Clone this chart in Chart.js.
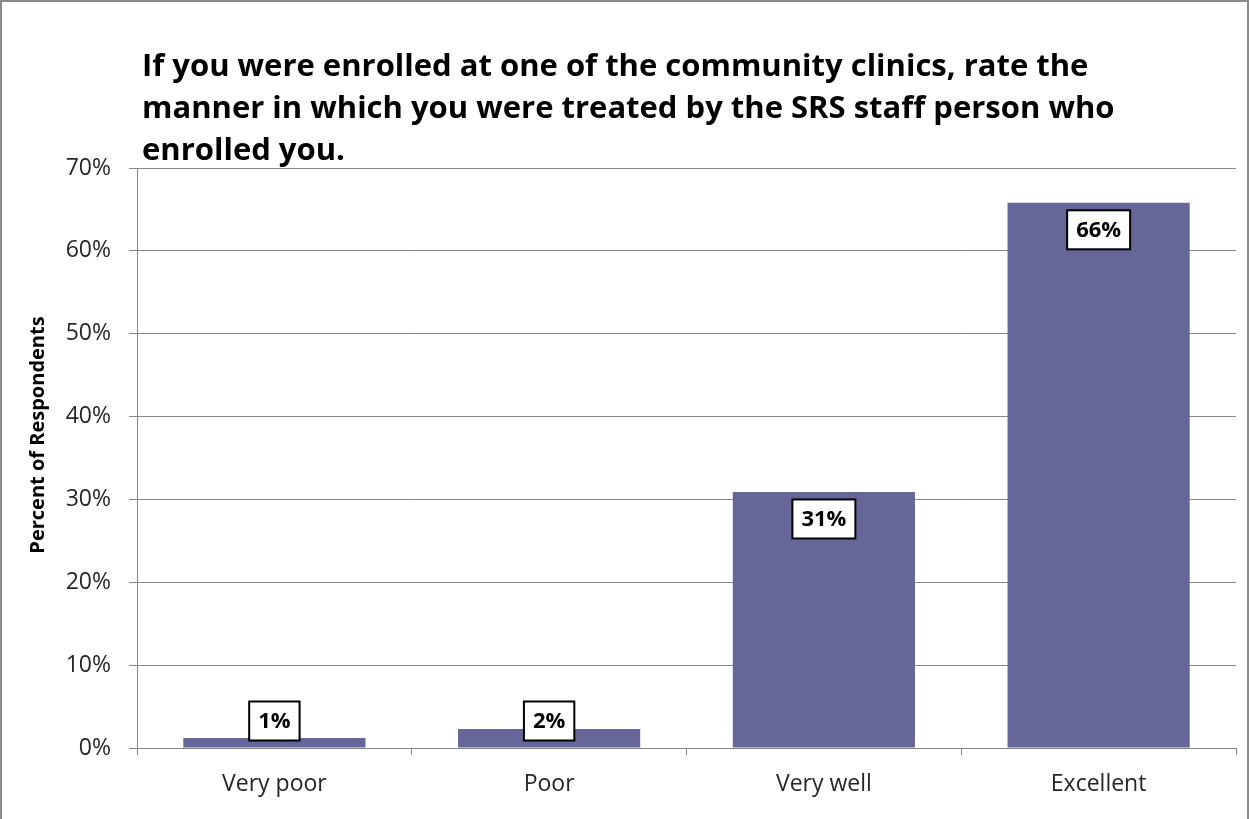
<!DOCTYPE html>
<html>
<head>
<meta charset="utf-8">
<script src="https://cdn.jsdelivr.net/npm/chart.js@4.4.1/dist/chart.umd.min.js"></script>
<style>
  html, body { margin: 0; padding: 0; background: #fff; }
  #frame {
    position: absolute; left: 0; top: 0;
    width: 1245px; height: 830px;
    border: 2px solid #8a8a8a;
  }
  #title {
    position: absolute; left: 142px; top: 43px;
    font: bold 31px "Open Sans", sans-serif;
    line-height: 42px;
    color: #000;
    white-space: nowrap;
  }
  #wrap { position: absolute; left: 0; top: 0; width: 1249px; height: 819px; }
</style>
</head>
<body>
<div id="frame"></div>
<div id="wrap"><canvas id="chart" width="1249" height="819"></canvas></div>
<div id="title">If you were enrolled at one of the community clinics, rate the<br>manner in which you were treated by the SRS staff person who<br>enrolled you.</div>
<script>
const categories = ["Very poor", "Poor", "Very well", "Excellent"];
const percents = [1.2, 2.3, 30.9, 65.8];
const yTicks = [0, 10, 20, 30, 40, 50, 60, 70];
const yTitle = "Percent of Respondents";

const barColor = "#666699";
const gridColor = "#868686";
const textColor = "#262626";

// Excel style boxed data labels, inside end, pushed up when the bar is too short
const boxLabels = {
  id: "boxLabels",
  afterDatasetsDraw(chart) {
    const ctx = chart.ctx;
    const meta = chart.getDatasetMeta(0);
    const base = chart.scales.y.getPixelForValue(0);
    ctx.save();
    ctx.font = "bold 22px 'Open Sans', sans-serif";
    ctx.textAlign = "center";
    ctx.textBaseline = "middle";
    meta.data.forEach((bar, i) => {
      const text = Math.round(percents[i]) + "%";
      const w = ctx.measureText(text).width + 18;
      const h = 39;
      const cy = Math.min(bar.y + 27, base - 27);
      ctx.fillStyle = "#fff";
      ctx.fillRect(bar.x - w / 2, cy - h / 2, w, h);
      ctx.lineWidth = 2;
      ctx.strokeStyle = "#000";
      ctx.strokeRect(bar.x - w / 2, cy - h / 2, w, h);
      ctx.fillStyle = "#000";
      ctx.fillText(text, bar.x, cy + 1);
    });
    ctx.restore();
  },
};

// axis title sits a bit above the middle of the plot, as in the original
const sideTitle = {
  id: "sideTitle",
  afterDraw(chart) {
    const ctx = chart.ctx;
    ctx.save();
    ctx.translate(38, 435);
    ctx.rotate(-Math.PI / 2);
    ctx.font = "bold 20px 'Open Sans', sans-serif";
    ctx.fillStyle = "#000";
    ctx.textAlign = "center";
    ctx.textBaseline = "middle";
    ctx.fillText(yTitle, 0, 0);
    ctx.restore();
  },
};

new Chart(document.getElementById("chart"), {
  type: "bar",
  data: {
    labels: categories,
    datasets: [{
      data: percents,
      backgroundColor: barColor,
      borderWidth: 0,
      barPercentage: 0.663,
      categoryPercentage: 1,
    }],
  },
  options: {
    responsive: false,
    animation: false,
    layout: { padding: { top: 168, right: 13, left: 0, bottom: 0 } },
    plugins: {
      legend: { display: false },
      tooltip: { enabled: false },
    },
    scales: {
      x: {
        afterFit: (s) => { s.height = 71; },
        grid: {
          display: true,
          drawOnChartArea: false,
          drawTicks: true,
          tickLength: 7,
          color: gridColor,
          offset: true,
        },
        border: { color: gridColor },
        ticks: {
          color: textColor,
          padding: 16,
          font: { family: "'Open Sans', sans-serif", size: 23 },
        },
      },
      y: {
        min: 0,
        max: 70,
        afterFit: (s) => { s.width = 137; },
        afterBuildTicks: (s) => { s.ticks = yTicks.map((v) => ({ value: v })); },
        grid: { color: gridColor, tickLength: 8 },
        border: { color: gridColor },
        ticks: {
          color: textColor,
          padding: 18,
          font: { family: "'Open Sans', sans-serif", size: 23 },
          callback: (v) => v + "%",
        },
      },
    },
  },
  plugins: [boxLabels, sideTitle],
});
</script>
</body>
</html>
